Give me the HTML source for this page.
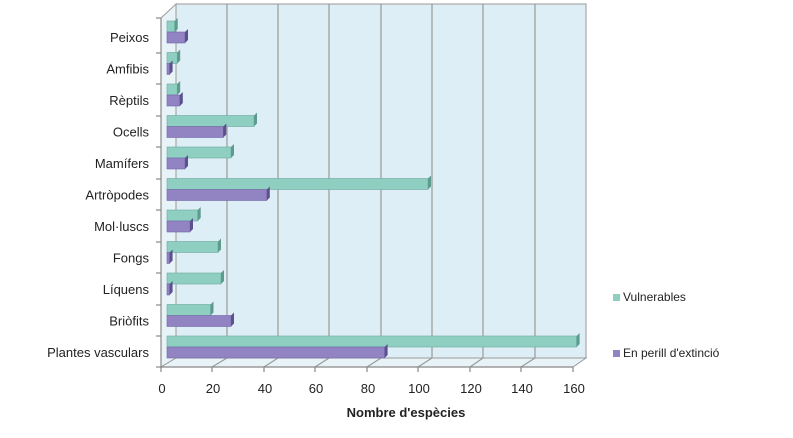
<!DOCTYPE html>
<html><head><meta charset="utf-8"><style>
html,body{margin:0;padding:0;background:#fff;}
svg{display:block;font-family:"Liberation Sans",Arial,sans-serif;}
</style></head><body>
<svg width="793" height="438" viewBox="0 0 793 438" xmlns="http://www.w3.org/2000/svg">
<!-- back wall -->
<rect x="176" y="4" width="410" height="354" fill="#deeef6" stroke="#9a9a9a" stroke-width="1"/>
<!-- left wall -->
<polygon points="161,18 176,4 176,358 161,367" fill="#e8f3f8" stroke="#9a9a9a"/>
<!-- floor -->
<polygon points="161,367 176,358 586,358 573,367" fill="#e8f3f8" stroke="#9a9a9a"/>
<g stroke="#9a9a9a" stroke-width="1.2">
<line x1="227" y1="4" x2="227" y2="358"/><line x1="278" y1="4" x2="278" y2="358"/>
<line x1="329" y1="4" x2="329" y2="358"/><line x1="381" y1="4" x2="381" y2="358"/>
<line x1="432" y1="4" x2="432" y2="358"/><line x1="483" y1="4" x2="483" y2="358"/>
<line x1="535" y1="4" x2="535" y2="358"/>
<line x1="212" y1="367" x2="227" y2="358"/><line x1="264" y1="367" x2="278" y2="358"/>
<line x1="315" y1="367" x2="329" y2="358"/><line x1="367" y1="367" x2="381" y2="358"/>
<line x1="418" y1="367" x2="432" y2="358"/><line x1="470" y1="367" x2="483" y2="358"/>
<line x1="521" y1="367" x2="535" y2="358"/>
</g>
<!-- axes -->
<g stroke="#888" stroke-width="1.2">
<line x1="161" y1="18" x2="161" y2="368"/>
<line x1="161" y1="367" x2="573" y2="367"/>
<line x1="156" y1="18" x2="161" y2="18"/><line x1="156" y1="53" x2="161" y2="53"/>
<line x1="156" y1="84" x2="161" y2="84"/><line x1="156" y1="116" x2="161" y2="116"/>
<line x1="156" y1="147" x2="161" y2="147"/><line x1="156" y1="179" x2="161" y2="179"/>
<line x1="156" y1="210" x2="161" y2="210"/><line x1="156" y1="242" x2="161" y2="242"/>
<line x1="156" y1="273" x2="161" y2="273"/><line x1="156" y1="305" x2="161" y2="305"/>
<line x1="156" y1="336" x2="161" y2="336"/><line x1="156" y1="367" x2="161" y2="367"/>
<line x1="161" y1="367" x2="161" y2="372"/><line x1="212" y1="367" x2="212" y2="372"/>
<line x1="264" y1="367" x2="264" y2="372"/><line x1="315" y1="367" x2="315" y2="372"/>
<line x1="367" y1="367" x2="367" y2="372"/><line x1="418" y1="367" x2="418" y2="372"/>
<line x1="470" y1="367" x2="470" y2="372"/><line x1="521" y1="367" x2="521" y2="372"/>
<line x1="573" y1="367" x2="573" y2="372"/>
</g>
<!-- green bars -->
<g fill="#8ecfc2" stroke="#6aa99c" stroke-width="0.6">
<rect x="167" y="21" width="7.7" height="11"/>
<rect x="167" y="52.5" width="10.2" height="11"/>
<rect x="167" y="84" width="10.2" height="11"/>
<rect x="167" y="115.5" width="87" height="11"/>
<rect x="167" y="147" width="64" height="11"/>
<rect x="167" y="178.5" width="261" height="11"/>
<rect x="167" y="210" width="30.7" height="11"/>
<rect x="167" y="241.5" width="51" height="11"/>
<rect x="167" y="273" width="54" height="11"/>
<rect x="167" y="304.5" width="43.5" height="11"/>
<rect x="167" y="336" width="409.6" height="11"/>
</g>
<g fill="#5e9b8f">
<polygon points="174.7,21 177.7,18 177.7,29 174.7,32"/>
<polygon points="177.2,52.5 180.2,49.5 180.2,60.5 177.2,63.5"/>
<polygon points="177.2,84 180.2,81 180.2,92 177.2,95"/>
<polygon points="254,115.5 257,112.5 257,123.5 254,126.5"/>
<polygon points="231,147 234,144 234,155 231,158"/>
<polygon points="428,178.5 431,175.5 431,186.5 428,189.5"/>
<polygon points="197.7,210 200.7,207 200.7,218 197.7,221"/>
<polygon points="218,241.5 221,238.5 221,249.5 218,252.5"/>
<polygon points="221,273 224,270 224,281 221,284"/>
<polygon points="210.5,304.5 213.5,301.5 213.5,312.5 210.5,315.5"/>
<polygon points="576.6,336 579.6,333 579.6,344 576.6,347"/>
</g>
<!-- purple bars -->
<g fill="#9284c3" stroke="#7466a8" stroke-width="0.6">
<rect x="167" y="32" width="18" height="11"/>
<rect x="167" y="63.5" width="2.6" height="11"/>
<rect x="167" y="95" width="12.8" height="11"/>
<rect x="167" y="126.5" width="56.3" height="11"/>
<rect x="167" y="158" width="18" height="11"/>
<rect x="167" y="189.5" width="99.8" height="11"/>
<rect x="167" y="221" width="23" height="11"/>
<rect x="167" y="252.5" width="2.6" height="11"/>
<rect x="167" y="284" width="2.6" height="11"/>
<rect x="167" y="315.5" width="64" height="11"/>
<rect x="167" y="347" width="217.6" height="11"/>
</g>
<g fill="#5d5090">
<polygon points="185,32 188,29 188,40 185,43"/>
<polygon points="169.6,63.5 172.6,60.5 172.6,71.5 169.6,74.5"/>
<polygon points="179.8,95 182.8,92 182.8,103 179.8,106"/>
<polygon points="223.3,126.5 226.3,123.5 226.3,134.5 223.3,137.5"/>
<polygon points="185,158 188,155 188,166 185,169"/>
<polygon points="266.8,189.5 269.8,186.5 269.8,197.5 266.8,200.5"/>
<polygon points="190,221 193,218 193,229 190,232"/>
<polygon points="169.6,252.5 172.6,249.5 172.6,260.5 169.6,263.5"/>
<polygon points="169.6,284 172.6,281 172.6,292 169.6,295"/>
<polygon points="231,315.5 234,312.5 234,323.5 231,326.5"/>
<polygon points="384.6,347 387.6,344 387.6,355 384.6,358"/>
</g>
<!-- category labels -->
<g font-size="13" fill="#222" text-anchor="end">
<text x="149" y="42">Peixos</text>
<text x="149" y="73.5">Amfibis</text>
<text x="149" y="105">Rèptils</text>
<text x="149" y="136.5">Ocells</text>
<text x="149" y="168">Mamífers</text>
<text x="149" y="199.5">Artròpodes</text>
<text x="149" y="231">Mol·luscs</text>
<text x="149" y="262.5">Fongs</text>
<text x="149" y="294">Líquens</text>
<text x="149" y="325.5">Briòfits</text>
<text x="149" y="357">Plantes vasculars</text>
</g>
<g font-size="13" fill="#222" text-anchor="middle">
<text x="162" y="393">0</text><text x="213" y="393">20</text>
<text x="265" y="393">40</text><text x="316" y="393">60</text>
<text x="368" y="393">80</text><text x="419" y="393">100</text>
<text x="471" y="393">120</text><text x="522" y="393">140</text>
<text x="574" y="393">160</text>
</g>
<text x="406" y="417" font-size="13" font-weight="bold" fill="#222" text-anchor="middle">Nombre d'espècies</text>
<!-- legend -->
<rect x="613" y="294" width="7" height="7" fill="#8ecfc2"/>
<text x="623" y="301" font-size="12" fill="#222">Vulnerables</text>
<rect x="613" y="350" width="7" height="7" fill="#9284c3"/>
<text x="623" y="357" font-size="12" fill="#222">En perill d'extinció</text>
</svg>
</body></html>
